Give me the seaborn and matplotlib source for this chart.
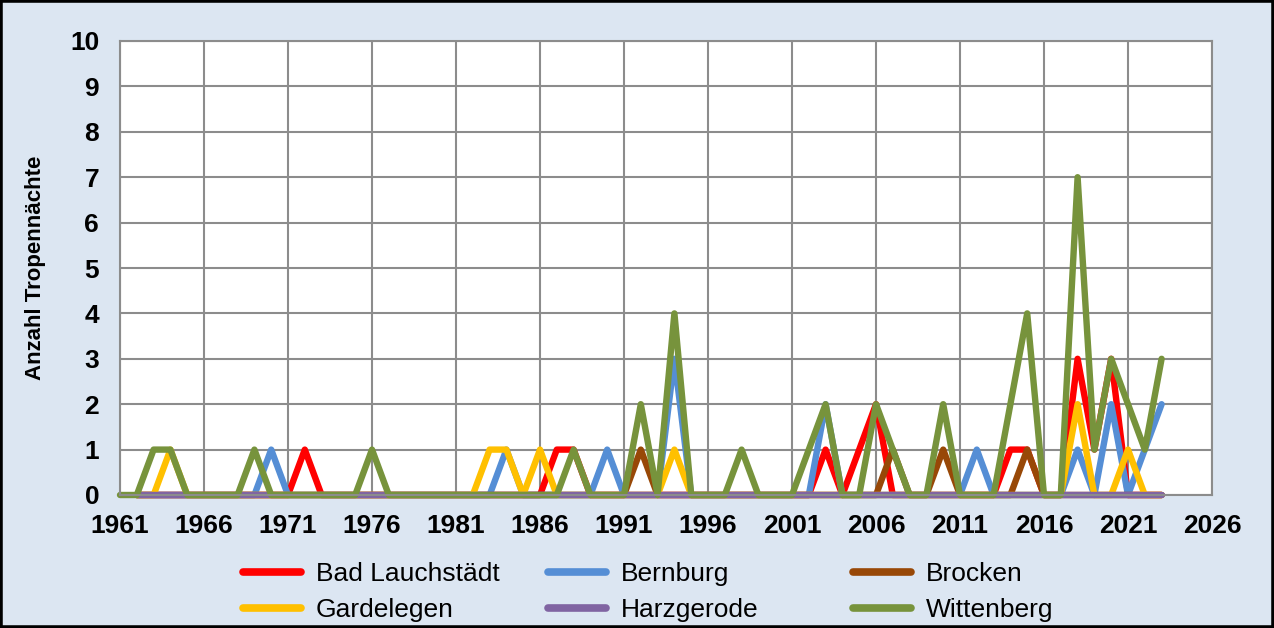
import numpy as np
import pandas as pd
import seaborn as sns
import matplotlib
matplotlib.use('Agg')
from matplotlib import pyplot as plt
from matplotlib.patches import Rectangle

nan = np.nan
years = list(range(1961, 2024))

# Anzahl Tropennächte je Station (1961-2023)
bad_lauchstaedt = [nan, 0, 0, 0, 0, 0, 0, 0, 0, 0,
                   0, 1, 0, 0, 0, 0, 0, 0, 0, 0,
                   0, 0, 0, 0, 0, 0, 1, 1, 0, 0,
                   0, 0, 0, 0, 0, 0, 0, 0, 0, 0,
                   0, 0, 1, 0, 1, 2, 0, 0, 0, 0,
                   0, 0, 0, 1, 1, 0, 0, 3, 1, 3,
                   0, 0, 0]
bernburg = [nan, 0, 0, 0, 0, 0, 0, 0, 0, 1,
            0, 0, 0, 0, 0, 0, 0, 0, 0, 0,
            0, 0, 0, 1, 0, 0, 0, 0, 0, 1,
            0, 0, 0, 3, 0, 0, 0, 0, 0, 0,
            0, 0, 2, 0, 0, 0, 0, 0, 0, 0,
            0, 1, 0, 0, 0, 0, 0, 1, 0, 2,
            0, 1, 2]
brocken = [nan, 0, 0, 0, 0, 0, 0, 0, 0, 0,
           0, 0, 0, 0, 0, 0, 0, 0, 0, 0,
           0, 0, 0, 0, 0, 0, 0, 0, 0, 0,
           0, 1, 0, 0, 0, 0, 0, 0, 0, 0,
           0, 0, 0, 0, 0, 0, 1, 0, 0, 1,
           0, 0, 0, 0, 1, 0, 0, 0, 0, 0,
           0, 0, 0]
gardelegen = [nan, 0, 0, 1, 0, 0, 0, 0, 0, 0,
              0, 0, 0, 0, 0, 0, 0, 0, 0, 0,
              0, 0, 1, 1, 0, 1, 0, 0, 0, 0,
              0, 0, 0, 1, 0, 0, 0, 0, 0, 0,
              0, 0, 0, 0, 0, 0, 0, 0, 0, 0,
              0, 0, 0, 0, 0, 0, 0, 2, 0, 0,
              1, 0, 0]
harzgerode = [nan] + [0] * 62
wittenberg = [0, 0, 1, 1, 0, 0, 0, 0, 1, 0,
              0, 0, 0, 0, 0, 1, 0, 0, 0, 0,
              0, 0, 0, 0, 0, 0, 0, 1, 0, 0,
              0, 2, 0, 4, 0, 0, 0, 1, 0, 0,
              0, 1, 2, 0, 0, 2, 1, 0, 0, 2,
              0, 0, 0, 2, 4, 0, 0, 7, 1, 3,
              2, 1, 3]

stations = ['Bad Lauchstädt', 'Bernburg', 'Brocken', 'Gardelegen', 'Harzgerode', 'Wittenberg']
series = [bad_lauchstaedt, bernburg, brocken, gardelegen, harzgerode, wittenberg]
colors = ['#FF0000', '#558ED5', '#984807', '#FFC000', '#8064A2', '#77933C']

frames = []
for name, vals in zip(stations, series):
    frames.append(pd.DataFrame({'Jahr': years, 'Wert': vals, 'Station': name}))
df = pd.concat(frames, ignore_index=True).dropna()

bg = '#DCE6F2'
grid_col = '#8C8C8C'

sns.set_style('white')
plt.rcParams['font.family'] = ['Liberation Sans', 'DejaVu Sans']
plt.rcParams['text.color'] = 'black'
plt.rcParams['xtick.labelcolor'] = 'black'
plt.rcParams['ytick.labelcolor'] = 'black'

fig = plt.figure(figsize=(12.74, 6.28), dpi=100, facecolor=bg)
ax = fig.add_axes([120 / 1274, 1 - 495 / 628, (1212 - 120) / 1274, (495 - 41) / 628])
ax.set_facecolor('white')

sns.lineplot(data=df, x='Jahr', y='Wert', hue='Station', hue_order=stations,
             palette=colors, linewidth=4.6, ax=ax, legend=True, clip_on=False,
             solid_joinstyle='round', solid_capstyle='round')

ax.set_xlim(1961, 2026)
ax.set_ylim(0, 10)
ax.set_xticks(range(1961, 2027, 5))
ax.set_xticks(range(1961, 2027), minor=True)
ax.set_yticks(range(0, 11))
ax.grid(True, which='major', color=grid_col, linewidth=1.5)
ax.set_axisbelow(True)
for s in ['left', 'bottom', 'top', 'right']:
    ax.spines[s].set_color(grid_col)
    ax.spines[s].set_linewidth(1.5)
ax.tick_params(axis='both', which='major', direction='out', length=6, width=1.5,
               color=grid_col, labelsize=19, labelcolor='black')
ax.tick_params(axis='x', which='major', pad=8)
ax.tick_params(axis='y', which='major', pad=9)
ax.tick_params(axis='x', which='minor', direction='in', length=4, width=1.2, color=grid_col)
for lab in ax.get_xticklabels() + ax.get_yticklabels():
    lab.set_fontweight('bold')
ax.set_xlabel('')
ax.set_ylabel('')

fig.text(36 / 1274, 1 - 268 / 628, 'Anzahl Tropennächte', rotation=90,
         ha='center', va='center', fontsize=16, fontweight='bold', color='black')

handles, labels = ax.get_legend_handles_labels()
ax.get_legend().remove()
for h in handles:
    h.set_linewidth(5.5)
col_x = [243, 548, 853]
for c in range(3):
    idx = [c, c + 3]
    leg = fig.legend([handles[i] for i in idx], [labels[i] for i in idx],
                     loc='upper left', bbox_to_anchor=(col_x[c] / 1274, 1 - 562 / 628),
                     frameon=False, fontsize=19, handlelength=2.2, handletextpad=0.55,
                     labelspacing=0.45, borderpad=0, borderaxespad=0, labelcolor='black')

fig.patches.append(Rectangle((0, 0), 1, 1, transform=fig.transFigure, fill=False,
                             edgecolor='black', linewidth=4))

fig.savefig('out.png', dpi=100, facecolor=bg)
